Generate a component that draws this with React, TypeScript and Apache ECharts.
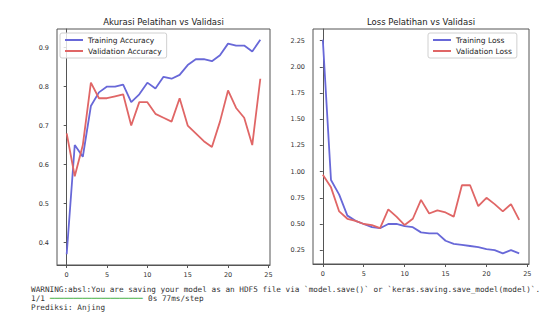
import React, { useEffect, useRef } from "react";
import * as echarts from "echarts";

const epochs = Array.from({ length: 25 }, (_, i) => i);
const trainAcc = [0.37, 0.65, 0.62, 0.75, 0.785, 0.8, 0.8, 0.805, 0.76, 0.78, 0.81, 0.795, 0.825, 0.82, 0.83, 0.855, 0.87, 0.87, 0.865, 0.88, 0.91, 0.905, 0.905, 0.89, 0.92];
const valAcc = [0.68, 0.57, 0.65, 0.81, 0.77, 0.77, 0.775, 0.78, 0.7, 0.76, 0.76, 0.73, 0.72, 0.71, 0.77, 0.7, 0.68, 0.66, 0.645, 0.71, 0.79, 0.745, 0.72, 0.65, 0.82];
const trainLoss = [2.26, 0.92, 0.78, 0.58, 0.53, 0.5, 0.47, 0.46, 0.5, 0.5, 0.48, 0.47, 0.42, 0.41, 0.41, 0.34, 0.31, 0.3, 0.29, 0.28, 0.26, 0.25, 0.22, 0.25, 0.22];
const valLoss = [0.97, 0.85, 0.62, 0.55, 0.53, 0.5, 0.49, 0.46, 0.64, 0.57, 0.49, 0.55, 0.73, 0.6, 0.63, 0.61, 0.57, 0.87, 0.87, 0.67, 0.75, 0.69, 0.62, 0.69, 0.54];

const xTicks = [0, 5, 10, 15, 20, 25];
const accTicks = [0.4, 0.5, 0.6, 0.7, 0.8, 0.9];
const lossTicks = [0.25, 0.5, 0.75, 1.0, 1.25, 1.5, 1.75, 2.0, 2.25];

const titles = ["Akurasi Pelatihan vs Validasi", "Loss Pelatihan vs Validasi"];
const accNames = ["Training Accuracy", "Validation Accuracy"];
const lossNames = ["Training Loss", "Validation Loss"];

const consoleLine1 =
  "WARNING:absl:You are saving your model as an HDF5 file via `model.save()` or `keras.saving.save_model(model)`.";
const consoleStep = "1/1";
const consoleBar = "━━━━━━━━━━━━━━━━━━━━";
const consoleTime = "0s 77ms/step";
const consoleLine3 = "Prediksi: Anjing";

const BLUE = "#6868d8";
const RED = "#e06666";
const FONT = "DejaVu Sans";
const MONO = "DejaVu Sans Mono";

function pad(arrs: number[][]) {
  const all = arrs.flat();
  const mn = Math.min(...all);
  const mx = Math.max(...all);
  const p = (mx - mn) * 0.05;
  return [mn - p, mx + p];
}

export default function App() {
  const ref = useRef<HTMLDivElement>(null);
  useEffect(() => {
    if (!ref.current) return;
    const chart = echarts.init(ref.current, null, { renderer: "svg" });
    const [accMin, accMax] = pad([trainAcc, valAcc]);
    const [lossMin, lossMax] = pad([trainLoss, valLoss]);
    const toPairs = (v: number[]) => v.map((y, i) => [epochs[i], y]);
    const axisCommon = {
      axisLine: { show: true, lineStyle: { color: "#555", width: 1 } },
      axisTick: { show: true, length: 3, lineStyle: { color: "#555" } },
      splitLine: { show: false },
    };
    const xAxis = (gi: number) => ({
      type: "value",
      gridIndex: gi,
      min: -1.2,
      max: 25.2,
      ...axisCommon,
      axisTick: { show: true, length: 3, lineStyle: { color: "#555" }, customValues: xTicks },
      axisLabel: { customValues: xTicks, fontSize: 6.5, fontFamily: FONT, color: "#333", margin: 6 },
    });
    const legendCommon = {
      orient: "vertical",
      itemWidth: 18,
      itemHeight: 2,
      itemGap: 3,
      icon: "rect",
      align: "left",
      textStyle: { fontSize: 7.5, fontFamily: FONT, color: "#222" },
      borderColor: "#d0d0d0",
      borderWidth: 1,
      borderRadius: 2,
      padding: [3, 5, 3, 5],
      backgroundColor: "rgba(255,255,255,0.8)",
    };
    const line = (name: string, data: number[], color: string, gi: number) => ({
      name,
      type: "line",
      xAxisIndex: gi,
      yAxisIndex: gi,
      data: toPairs(data),
      showSymbol: false,
      symbol: "none",
      itemStyle: { color },
      lineStyle: { color, width: 1.8 },
    });
    const titleStyle = { fontSize: 8.5, fontWeight: "normal", fontFamily: FONT, color: "#222" };
    chart.setOption({
      animation: false,
      backgroundColor: "#fff",
      title: [
        { text: titles[0], left: 163.5, top: 17, padding: 0, textAlign: "center", textStyle: titleStyle },
        { text: titles[1], left: 421, top: 17, padding: 0, textAlign: "center", textStyle: titleStyle },
      ],
      grid: [
        { left: 57, top: 29, width: 213, height: 236, show: true, borderColor: "#555", borderWidth: 1, backgroundColor: "#fff" },
        { left: 313, top: 29, width: 216, height: 235, show: true, borderColor: "#555", borderWidth: 1, backgroundColor: "#fff" },
      ],
      legend: [
        { ...legendCommon, data: accNames, left: 60, top: 33 },
        { ...legendCommon, data: lossNames, left: 428, top: 33 },
      ],
      xAxis: [xAxis(0), xAxis(1)],
      yAxis: [
        {
          type: "value",
          gridIndex: 0,
          min: accMin,
          max: accMax,
          ...axisCommon,
          axisTick: { show: true, length: 3, lineStyle: { color: "#555" }, customValues: accTicks },
          axisLabel: { customValues: accTicks, fontSize: 6.5, fontFamily: FONT, color: "#333", margin: 8, formatter: (v: number) => v.toFixed(1) },
        },
        {
          type: "value",
          gridIndex: 1,
          min: lossMin,
          max: lossMax,
          ...axisCommon,
          axisTick: { show: true, length: 3, lineStyle: { color: "#555" }, customValues: lossTicks },
          axisLabel: { customValues: lossTicks, fontSize: 6.5, fontFamily: FONT, color: "#333", margin: 8, formatter: (v: number) => v.toFixed(2) },
        },
      ],
      series: [
        line(accNames[0], trainAcc, BLUE, 0),
        line(accNames[1], valAcc, RED, 0),
        line(lossNames[0], trainLoss, BLUE, 1),
        line(lossNames[1], valLoss, RED, 1),
      ],
      graphic: [
        { type: "text", left: 31, top: 285, style: { text: consoleLine1, fontSize: 7.7, fontFamily: MONO, fill: "#333" } },
        { type: "text", left: 31, top: 294.5, style: { text: consoleStep, fontSize: 7.7, fontFamily: MONO, fill: "#333" } },
        { type: "text", left: 50, top: 294.5, style: { text: consoleBar, fontSize: 7.7, fontFamily: MONO, fill: "#6cc06c" } },
        { type: "text", left: 148, top: 294.5, style: { text: consoleTime, fontSize: 7.7, fontFamily: MONO, fill: "#333" } },
        { type: "text", left: 31, top: 303.5, style: { text: consoleLine3, fontSize: 7.7, fontFamily: MONO, fill: "#333" } },
      ],
    });
    return () => chart.dispose();
  }, []);
  return <div ref={ref} style={{ position: "fixed", left: 0, top: 0, width: 550, height: 312 }} />;
}
